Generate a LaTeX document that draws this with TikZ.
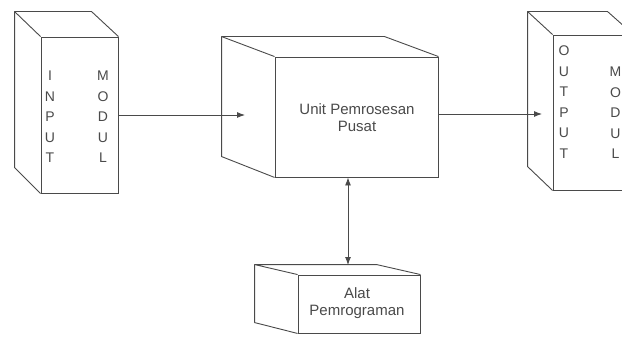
\documentclass[tikz,border=0pt]{standalone}
\usepackage{fontspec}
\setmainfont{Liberation Sans}
\usetikzlibrary{arrows.meta}
\definecolor{ink}{HTML}{4A4A4A}
\tikzset{
  face/.style={draw=ink, line width=0.9pt, inner sep=0pt, fill=white},
  edge/.style={draw=ink, line width=0.9pt, line join=round},
  lbl/.style={text=ink, font=\fontsize{15}{17}\selectfont, align=center, inner sep=0pt},
  vlbl/.style={text=ink, font=\fontsize{14}{20.5}\selectfont, align=center, inner sep=0pt},
  arr/.style={draw=ink, line width=0.9pt, -{Latex[length=8pt,width=6pt]}},
  darr/.style={draw=ink, line width=0.9pt, {Latex[length=8pt,width=6pt]}-{Latex[length=8pt,width=6pt]}}
}
\begin{document}
\begin{tikzpicture}[x=1pt,y=-1pt]
\useasboundingbox (0,0) rectangle (622,337);
\clip (0,0) rectangle (622,337);
% input module
\node[face, minimum width=77pt, minimum height=156pt] (in) at (79.5,115) {};
\draw[edge] (in.north west) -- ++(-26,-25) -- ++(77,0) -- (in.north east);
\draw[edge] (in.north west) ++(-26,-25) -- ++(0,156) -- (in.south west);
\node[vlbl] (inA) at (50,117) {I\\N\\P\\U\\T};
\node[vlbl] (inB) at (103,117) {M\\O\\D\\U\\L};
% CPU
\node[face, minimum width=163pt, minimum height=120pt] (cpu) at (356.5,117) {};
\draw[edge] (cpu.north west) -- ++(-53,-20) -- ++(163,0) -- (cpu.north east);
\draw[edge] (cpu.north west) ++(-53,-20) -- ++(0,120) -- (cpu.south west);
\node[lbl] (cpuT) at (357,118) {Unit Pemrosesan\\Pusat};
% output module
\node[face, minimum width=80pt, minimum height=155pt] (out) at (593,112.5) {};
\draw[edge] (out.north west) -- ++(-25,-23) -- ++(80,0) -- (out.north east);
\draw[edge] (out.north west) ++(-25,-23) -- ++(0,155) -- (out.south west);
\node[vlbl] (outA) at (564,102) {O\\U\\T\\P\\U\\T};
\node[vlbl] (outB) at (615.5,113) {M\\O\\D\\U\\L};
% programming tool
\node[face, minimum width=122pt, minimum height=58pt] (alat) at (359,304) {};
\draw[edge] (alat.north west) -- ++(-43,-10) -- ++(122,0) -- (alat.north east);
\draw[edge] (alat.north west) ++(-43,-10) -- ++(0,58) -- (alat.south west);
\node[lbl] (alatT) at (357,303) {Alat\\Pemrograman};
% connectors
\coordinate (intip) at (245,115);
\coordinate (outtip) at (542,114);
\coordinate (alattop) at (348,265);
\draw[arr] (in.east |- intip) -- (intip);
\draw[arr] (cpu.east |- outtip) -- (outtip);
\draw[darr] (alattop |- cpu.south) -- (alattop);
\end{tikzpicture}
\end{document}
